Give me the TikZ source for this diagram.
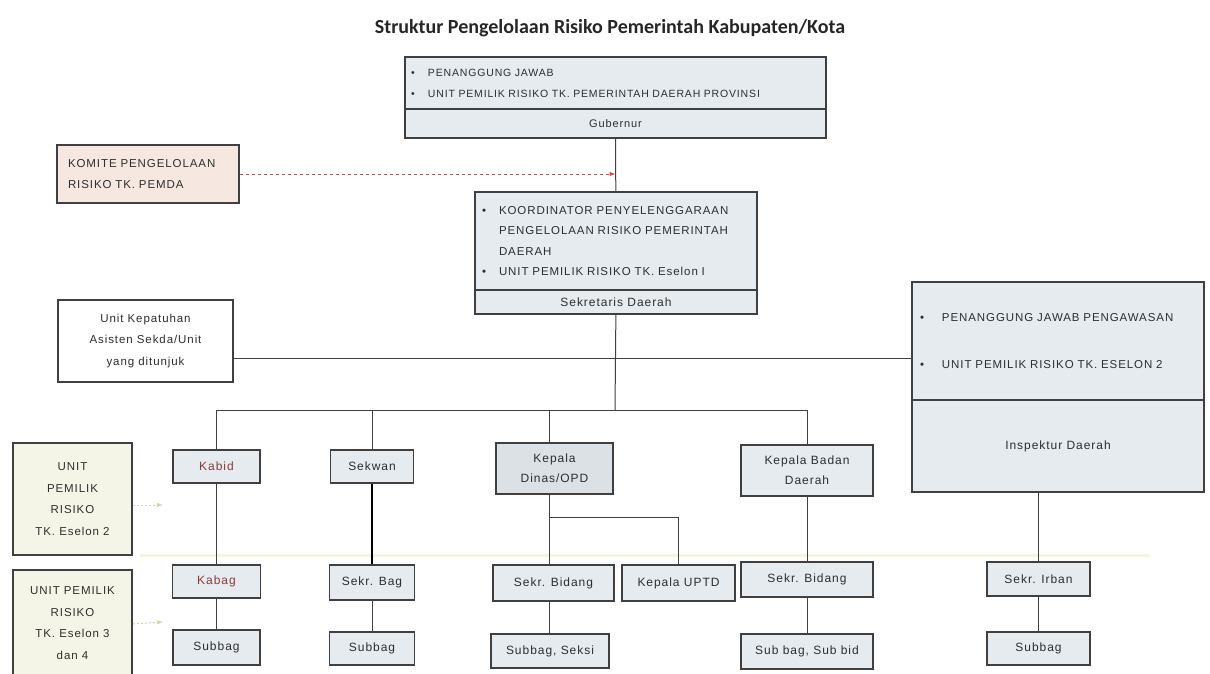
\documentclass[tikz,border=0pt]{standalone}
\usepackage{fontspec}
\setmainfont{Liberation Sans}[LetterSpace=8]
\newfontfamily\titlefont{Carlito}
\usetikzlibrary{arrows,positioning,calc}
\definecolor{boxfill}{HTML}{E6EBF0}
\definecolor{dinasfill}{HTML}{DCE1E6}
\definecolor{komitefill}{HTML}{F7E7E1}
\definecolor{labelfill}{HTML}{F5F5E7}
\definecolor{textgray}{HTML}{2E2E2E}
\definecolor{linegray}{HTML}{404040}
\definecolor{redtext}{HTML}{8A3B3B}
\definecolor{komitered}{HTML}{E04848}
\definecolor{fadegreen}{HTML}{C9D9A8}
\definecolor{bandyellow}{HTML}{F5F4DC}
\newcommand{\bul}{\makebox[17pt][l]{\textbullet}}

\begin{document}
\begin{tikzpicture}
  [x=1pt,y=-1pt,
   every node/.style={rectangle, draw=linegray, line width=1.2pt, fill=boxfill, text=textgray, inner sep=0pt, align=center},
   sz/.style 2 args={minimum width=#1, minimum height=#2},
   capstext/.style={font=\fontsize{11.5}{20.5}\selectfont},
   lowtext/.style={font=\fontsize{12}{20}\selectfont},
   labelbox/.style={fill=labelfill, draw=black!75, line width=1.7pt, font=\fontsize{11.5}{21.7}\selectfont},
   conn/.style={draw=linegray, line width=1pt}]

  \useasboundingbox (0,0) rectangle (1210,674);

  % title
  \node [draw=none, fill=none, text=black!85, font=\titlefont\bfseries\fontsize{20}{24}\selectfont] (title) at (610,28) {Struktur Pengelolaan Risiko Pemerintah Kabupaten/Kota};

  % band between the levels
  \draw [bandyellow, line width=3pt] (140,555) -- (1150,555);

  % top
  \node [sz={421pt}{52pt}, text width=409pt, inner xsep=6pt, align=left, font=\fontsize{10.5}{21}\selectfont] (gubA) at (615.5,83) {\bul PENANGGUNG JAWAB\\ \bul UNIT PEMILIK RISIKO TK. PEMERINTAH DAERAH PROVINSI};
  \node [sz={421pt}{29pt}, font=\fontsize{11}{12}\selectfont] (gub) at (615.5,123.5) {Gubernur};

  \node [sz={182pt}{58pt}, text width=160pt, inner xsep=11pt, align=left, fill=komitefill, capstext] (komite) at (148,174) {KOMITE PENGELOLAAN\\RISIKO TK. PEMDA};

  \node [sz={282pt}{98pt}, text width=268pt, inner xsep=7pt, align=left, capstext] (korA) at (616,241) {\bul KOORDINATOR PENYELENGGARAAN\\ \hspace*{17pt}PENGELOLAAN RISIKO PEMERINTAH\\ \hspace*{17pt}DAERAH\\ \bul UNIT PEMILIK RISIKO TK. Eselon I};
  \node [sz={282pt}{24pt}, lowtext] (sekda) at (616,302) {Sekretaris Daerah};

  \node [sz={175pt}{82pt}, fill=white, font=\fontsize{11.5}{21.5}\selectfont] (kepatuhan) at (145.5,341) {Unit Kepatuhan\\Asisten Sekda/Unit\\yang ditunjuk};

  \node [sz={292pt}{118pt}, text width=276pt, inner xsep=8pt, align=left, capstext] (inspA) at (1058,341) {\makebox[22pt][l]{\textbullet}PENANGGUNG JAWAB PENGAWASAN\\[26pt] \makebox[22pt][l]{\textbullet}UNIT PEMILIK RISIKO TK. ESELON 2};
  \node [sz={292pt}{92pt}, lowtext] (insp) at (1058,446) {Inspektur Daerah};

  % left labels
  \node [sz={119pt}{112pt}, labelbox] (lbl1) at (72.5,499) {UNIT\\PEMILIK\\RISIKO\\TK. Eselon 2};
  \node [sz={119pt}{106pt}, labelbox] (lbl2) at (72.5,623) {UNIT PEMILIK\\RISIKO\\TK. Eselon 3\\dan 4};

  % level 1
  \node [sz={87pt}{33pt}, lowtext, text=redtext, line width=1.5pt] (kabid) at (216.5,466.5) {Kabid};
  \node [sz={83pt}{33pt}, lowtext] (sekwan) at (372,466.5) {Sekwan};
  \node [sz={117pt}{51pt}, lowtext, fill=dinasfill, line width=1.7pt] (kadis) at (554.5,468.5) {Kepala\\Dinas/OPD};
  \node [sz={132pt}{51pt}, lowtext] (kaban) at (807,470.5) {Kepala Badan\\Daerah};

  % level 2
  \node [sz={88pt}{33pt}, lowtext, text=redtext] (kabag) at (216.5,581.5) {Kabag};
  \node [sz={85pt}{35pt}, lowtext] (sekbag) at (372,582.5) {Sekr. Bag};
  \node [sz={121pt}{36pt}, lowtext] (sekbid) at (553.5,583) {Sekr. Bidang};
  \node [sz={113pt}{36pt}, lowtext] (upt) at (678.5,583) {Kepala UPTD};
  \node [sz={132pt}{35pt}, lowtext] (sekbidb) at (807,579.5) {Sekr. Bidang};
  \node [sz={103pt}{34pt}, lowtext] (irban) at (1038.5,579) {Sekr. Irban};

  % level 3
  \node [sz={87pt}{35pt}, lowtext] (subbag) at (216.5,647.5) {Subbag};
  \node [sz={85pt}{33pt}, lowtext] (subbagw) at (372,648.5) {Subbag};
  \node [sz={118pt}{34pt}, lowtext] (subseksi) at (550,651) {Subbag, Seksi};
  \node [sz={132pt}{35pt}, lowtext] (subbid) at (807,651.5) {Sub bag, Sub bid};
  \node [sz={103pt}{33pt}, lowtext] (subbagi) at (1038.5,648.5) {Subbag};

  \coordinate (br) at (615,410);
  \coordinate (kd) at (549,517);
  \coordinate (lbl1end) at (163,505);
  \coordinate (lbl2end) at (163,622);

  % lines
  \path [conn]
  (gub) edge (korA)
  (sekda) edge (br)
  (kabid) edge (kabag)
  (kabag) edge (subbag)
  (sekbag) edge (subbagw)
  (kaban) edge (sekbidb)
  (sekbidb) edge (subbid)
  (irban) edge (subbagi);

  \draw [conn] ([yshift=-17pt]kepatuhan.east) -- ([yshift=-17pt]kepatuhan.east -| inspA.west);
  \draw [conn] (kabid.north) |- (kaban.north |- br) -- (kaban.north);
  \draw [conn] (sekwan.north) -- (sekwan.north |- br);
  \draw [conn] (kd |- kadis.north) -- (kd |- br);
  \draw [black, line width=1.8pt] (sekwan) -- (sekbag);
  \draw [conn] (kd |- kadis.south) -- (kd) -| (upt.north);
  \draw [conn] (kd) -- (kd |- sekbid.north);
  \draw [conn] (kd |- sekbid.south) -- (kd |- subseksi.north);
  \draw [conn] (irban.north |- insp.south) -- (irban.north);

  \draw [komitered, line width=1pt, dash pattern=on 3pt off 3pt, -latex] (komite.east) -- (komite.east -| gub.south);

  \draw [fadegreen, line width=1pt, dash pattern=on 2pt off 2pt, -latex] ([yshift=-6pt]lbl1.east) -- (lbl1end);
  \draw [fadegreen, line width=1pt, dash pattern=on 2pt off 2pt, -latex] ([yshift=-1pt]lbl2.east) -- (lbl2end);

\end{tikzpicture}
\end{document}
